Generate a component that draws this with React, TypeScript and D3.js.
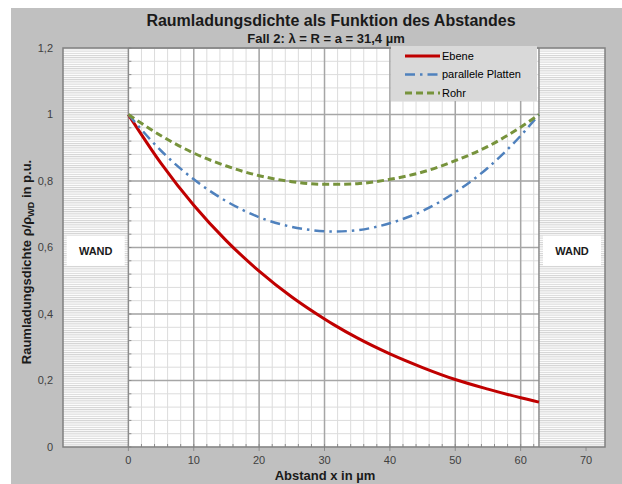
import React from "react";
import * as d3 from "d3";

const xValues = [0, 5, 10, 15, 20, 25, 30, 31.4, 35, 40, 45, 50, 55, 60, 62.8];
const ebene = [1, 0.853, 0.727, 0.62, 0.529, 0.451, 0.385, 0.368, 0.328, 0.28, 0.239, 0.203, 0.174, 0.148, 0.135];
const platten = [1, 0.891, 0.805, 0.739, 0.691, 0.662, 0.649, 0.648, 0.652, 0.673, 0.71, 0.766, 0.84, 0.936, 1];
const rohr = [1, 0.936, 0.884, 0.845, 0.816, 0.798, 0.79, 0.79, 0.792, 0.805, 0.827, 0.861, 0.904, 0.962, 1];

const xTicks = [0, 10, 20, 30, 40, 50, 60, 70];
const yTicks = [0, 0.2, 0.4, 0.6, 0.8, 1, 1.2];
const yTickLabels = ["0", "0,2", "0,4", "0,6", "0,8", "1", "1,2"];
const seriesNames = ["Ebene", "parallele Platten", "Rohr"];
const wallLabel = "WAND";
const wallLeft = [-10, 0];
const wallRight = [62.8, 72.9];

const W = 622;
const H = 484;
const plot = { left: 63, right: 605, top: 48, bottom: 447 };

export default function App() {
  const x = d3.scaleLinear().domain([-10, 72.9]).range([plot.left, plot.right]);
  const y = d3.scaleLinear().domain([0, 1.2]).range([plot.bottom, plot.top]);

  const minorX = d3.range(0, 63, 2);
  const minorY = d3.range(0, 1.2001, 0.04);

  const line = d3
    .line<number>()
    .x((_, i) => x(xValues[i]))
    .y((d) => y(d))
    .curve(d3.curveMonotoneX);

  const series = [
    { name: seriesNames[0], data: ebene, color: "#c00000", dash: "", width: 3 },
    { name: seriesNames[1], data: platten, color: "#4f81bd", dash: "10,5,2.5,5", width: 2.5 },
    { name: seriesNames[2], data: rohr, color: "#77933c", dash: "7,4", width: 3 },
  ];

  const font = "'Liberation Sans', Arial, sans-serif";
  const wandY = y(0.59);

  return (
    <svg
      width={W}
      height={H}
      style={{ position: "absolute", left: 0, top: 0, fontFamily: font }}
    >
      <defs>
        <pattern id="hatch" width="4" height="2.2" patternUnits="userSpaceOnUse">
          <rect width="4" height="2.2" fill="#ffffff" />
          <rect y="0" width="4" height="1" fill="#d2d2d2" />
        </pattern>
        <clipPath id="clip">
          <rect x={plot.left} y={plot.top} width={plot.right - plot.left} height={plot.bottom - plot.top} />
        </clipPath>
      </defs>
      <rect x={0} y={0} width={W} height={H} fill="#ffffff" />
      <rect x={11} y={8} width={W - 11} height={H - 8} fill="#c0c0c0" />

      {/* plot area */}
      <rect x={plot.left} y={plot.top} width={plot.right - plot.left} height={plot.bottom - plot.top} fill="#ffffff" />

      {/* minor grid */}
      {minorX.map((v) => (
        <line key={"mx" + v} x1={x(v)} x2={x(v)} y1={plot.top} y2={plot.bottom} stroke="#dcdcdc" strokeWidth={1} />
      ))}
      {minorY.map((v) => (
        <line key={"my" + v} x1={x(0)} x2={x(62.8)} y1={y(v)} y2={y(v)} stroke="#dcdcdc" strokeWidth={1} />
      ))}
      {/* major grid */}
      {xTicks.filter((v) => v > 0 && v < 62.8).map((v) => (
        <line key={"gx" + v} x1={x(v)} x2={x(v)} y1={plot.top} y2={plot.bottom} stroke="#a6a6a6" strokeWidth={1.5} />
      ))}
      {yTicks.filter((v) => v > 0).map((v) => (
        <line key={"gy" + v} x1={x(0)} x2={x(62.8)} y1={y(v)} y2={y(v)} stroke="#a6a6a6" strokeWidth={1.5} />
      ))}

      {/* walls */}
      <rect x={x(wallLeft[0])} y={plot.top} width={x(wallLeft[1]) - x(wallLeft[0])} height={plot.bottom - plot.top} fill="url(#hatch)" />
      <rect x={x(wallRight[0])} y={plot.top} width={x(wallRight[1]) - x(wallRight[0])} height={plot.bottom - plot.top} fill="url(#hatch)" />
      <line x1={x(0)} x2={x(0)} y1={plot.top} y2={plot.bottom} stroke="#8c8c8c" strokeWidth={1.5} />
      <line x1={x(62.8)} x2={x(62.8)} y1={plot.top} y2={plot.bottom} stroke="#8c8c8c" strokeWidth={1.5} />

      {/* y axis ticks at x=0 */}
      {minorY.map((v) => (
        <line key={"ty" + v} x1={x(0)} x2={x(0) + 3} y1={y(v)} y2={y(v)} stroke="#8c8c8c" strokeWidth={1} />
      ))}
      {/* x axis minor ticks */}
      {minorX.map((v) => (
        <line key={"tx" + v} x1={x(v)} x2={x(v)} y1={plot.bottom} y2={plot.bottom - 3} stroke="#8c8c8c" strokeWidth={1} />
      ))}
      {xTicks.map((v) => (
        <line key={"tX" + v} x1={x(v)} x2={x(v)} y1={plot.bottom} y2={plot.bottom + 4} stroke="#8c8c8c" strokeWidth={1} />
      ))}

      {/* WAND labels */}
      {[wallLeft, wallRight].map((w, i) => {
        const cx = (x(w[0]) + x(w[1])) / 2;
        return (
          <g key={"wand" + i}>
            <rect x={cx - 29} y={wandY - 15} width={58} height={30} fill="#ffffff" />
            <text x={cx} y={wandY} dy="0.35em" textAnchor="middle" fontSize={11} fontWeight="bold" fill="#1a1a1a">
              {wallLabel}
            </text>
          </g>
        );
      })}

      {/* series */}
      <g clipPath="url(#clip)">
        {series.map((s) => (
          <path
            key={s.name}
            d={line(s.data) || ""}
            fill="none"
            stroke={s.color}
            strokeWidth={s.width}
            strokeDasharray={s.dash}
          />
        ))}
      </g>

      {/* frame */}
      <rect x={plot.left} y={plot.top} width={plot.right - plot.left} height={plot.bottom - plot.top} fill="none" stroke="#808080" strokeWidth={1.5} />

      {/* legend */}
      <rect x={391} y={46} width={146} height={55} fill="#d9d9d9" />
      {series.map((s, i) => {
        const ly = 56 + i * 18.5;
        return (
          <g key={"leg" + s.name}>
            <line x1={405} x2={440} y1={ly} y2={ly} stroke={s.color} strokeWidth={s.width} strokeDasharray={s.dash} />
            <text x={442} y={ly} dy="0.35em" fontSize={11} fill="#000">
              {s.name}
            </text>
          </g>
        );
      })}

      {/* tick labels */}
      {yTicks.map((v, i) => (
        <text key={"yl" + v} x={53} y={y(v)} dy="0.35em" textAnchor="end" fontSize={11} fill="#404040">
          {yTickLabels[i]}
        </text>
      ))}
      {xTicks.map((v) => (
        <text key={"xl" + v} x={x(v)} y={464} textAnchor="middle" fontSize={11} fill="#404040">
          {v}
        </text>
      ))}

      {/* titles */}
      <text x={331} y={26} textAnchor="middle" fontSize={16} fontWeight="bold" fill="#1a1a1a">
        Raumladungsdichte als Funktion des Abstandes
      </text>
      <text x={326} y={43} textAnchor="middle" fontSize={13} fontWeight="bold" fill="#1a1a1a">
        Fall 2: λ = R = a = 31,4 µm
      </text>
      <text x={325} y={480} textAnchor="middle" fontSize={13} fontWeight="bold" fill="#1a1a1a">
        Abstand x in µm
      </text>
      <text
        transform={`translate(31, 262) rotate(-90)`}
        textAnchor="middle"
        fontSize={13}
        fontWeight="bold"
        fill="#1a1a1a"
      >
        Raumladungsdichte ρ/ρ
        <tspan fontSize={9} dy={3}>WD</tspan>
        <tspan dy={-3}> in p.u.</tspan>
      </text>
    </svg>
  );
}
